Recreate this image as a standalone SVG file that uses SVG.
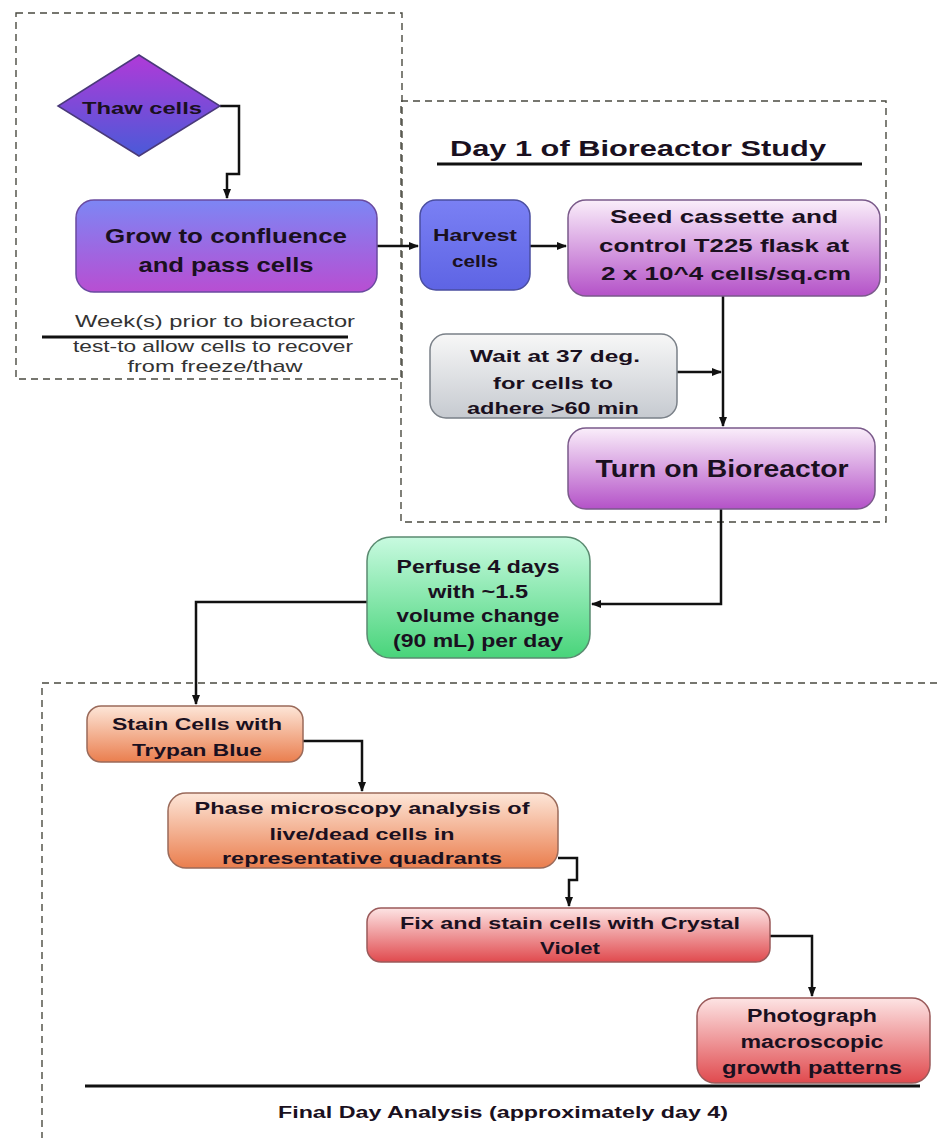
<svg xmlns="http://www.w3.org/2000/svg" width="937" height="1138" viewBox="0 0 937 1138">
<defs>
<linearGradient id="gDiamond" x1="0" y1="0" x2="0" y2="1"><stop offset="0" stop-color="#b03ad8"/><stop offset="1" stop-color="#4a5ad8"/></linearGradient>
<linearGradient id="gGrow" x1="0" y1="0" x2="0" y2="1"><stop offset="0" stop-color="#7d86f4"/><stop offset="1" stop-color="#b84ed2"/></linearGradient>
<linearGradient id="gHarvest" x1="0" y1="0" x2="0" y2="1"><stop offset="0" stop-color="#7a80f4"/><stop offset="1" stop-color="#5e64e4"/></linearGradient>
<linearGradient id="gPurple" x1="0" y1="0" x2="0" y2="1"><stop offset="0" stop-color="#faeefa"/><stop offset="1" stop-color="#b452c8"/></linearGradient>
<linearGradient id="gGray" x1="0" y1="0" x2="0" y2="1"><stop offset="0" stop-color="#f7f7f7"/><stop offset="1" stop-color="#c6cad0"/></linearGradient>
<linearGradient id="gGreen" x1="0" y1="0" x2="0" y2="1"><stop offset="0" stop-color="#c8fae0"/><stop offset="1" stop-color="#48d47a"/></linearGradient>
<linearGradient id="gOrange" x1="0" y1="0" x2="0" y2="1"><stop offset="0" stop-color="#fde6d8"/><stop offset="1" stop-color="#ea7e4e"/></linearGradient>
<linearGradient id="gRed" x1="0" y1="0" x2="0" y2="1"><stop offset="0" stop-color="#fde4e4"/><stop offset="1" stop-color="#e04a4e"/></linearGradient>
<marker id="arr" viewBox="0 0 10 10" refX="9" refY="5" markerWidth="10" markerHeight="10" markerUnits="userSpaceOnUse" orient="auto"><path d="M0,1 L10,5 L0,9 z" fill="#111"/></marker>
</defs>
<style>
.frame{fill:none;stroke:#4a4a40;stroke-width:1.4;stroke-dasharray:7,5}
.node{stroke-width:1.5}
.t{font-family:"Liberation Sans",Arial,sans-serif;font-weight:bold;fill:#1a1020;text-anchor:middle}
.n{font-family:"Liberation Sans",Arial,sans-serif;fill:#333;text-anchor:middle;font-size:17px}
.conn{fill:none;stroke:#111;stroke-width:2.5}
.rule{stroke:#111;stroke-width:3}
</style>
<rect width="937" height="1138" fill="#ffffff"/>

<g id="frames">
<rect class="frame" x="16" y="13" width="386" height="366"/>
<rect class="frame" x="401" y="101" width="485" height="421" stroke="#6a5a3a"/>
<path class="frame" d="M937,683 H42 V1138"/>
</g>

<g id="labels">
<text class="n" x="215" y="327" textLength="280" lengthAdjust="spacingAndGlyphs">Week(s) prior to bioreactor</text>
<line class="rule" x1="42" y1="337" x2="348" y2="337" stroke-width="2.5"/>
<text class="n" x="213" y="352" textLength="280" lengthAdjust="spacingAndGlyphs">test-to allow cells to recover</text>
<text class="n" x="215" y="372" textLength="175" lengthAdjust="spacingAndGlyphs">from freeze/thaw</text>
<text class="t" x="638" y="156" font-size="22" textLength="376" lengthAdjust="spacingAndGlyphs">Day 1 of Bioreactor Study</text>
<line class="rule" x1="437" y1="164" x2="862" y2="164"/>
<line class="rule" x1="85" y1="1086" x2="920" y2="1086"/>
<text class="t" x="503" y="1118" font-size="16" textLength="450" lengthAdjust="spacingAndGlyphs">Final Day Analysis (approximately day 4)</text>
</g>

<g id="connectors">
<path class="conn" d="M220,106 H239 V174 H227 V198" marker-end="url(#arr)"/>
<path class="conn" d="M377,246 H418" marker-end="url(#arr)"/>
<path class="conn" d="M530,246 H566" marker-end="url(#arr)"/>
<path class="conn" d="M723,296 V426" marker-end="url(#arr)"/>
<path class="conn" d="M677,372 H721" marker-end="url(#arr)"/>
<path class="conn" d="M721,508 V604 H592" marker-end="url(#arr)"/>
<path class="conn" d="M367,602 H196 V704" marker-end="url(#arr)"/>
<path class="conn" d="M303,741 H362 V791" marker-end="url(#arr)"/>
<path class="conn" d="M558,858 H577 V880 H569 V906" marker-end="url(#arr)"/>
<path class="conn" d="M770,936 H812 V996" marker-end="url(#arr)"/>
</g>

<g id="thaw">
<polygon class="node" points="139,55 220,106 139,156 58,106" fill="url(#gDiamond)" stroke="#4a3a7a"/>
<text class="t" x="142" y="114" font-size="17" textLength="120" lengthAdjust="spacingAndGlyphs">Thaw  cells</text>
</g>

<g id="grow">
<rect class="node" x="76" y="200" width="301" height="92" rx="18" fill="url(#gGrow)" stroke="#6a4aa0"/>
<text class="t" x="226" y="243" font-size="21" textLength="242" lengthAdjust="spacingAndGlyphs">Grow to confluence</text>
<text class="t" x="226" y="272" font-size="21" textLength="175" lengthAdjust="spacingAndGlyphs">and pass cells</text>
</g>

<g id="harvest">
<rect class="node" x="420" y="200" width="110" height="90" rx="16" fill="url(#gHarvest)" stroke="#4a4ea0"/>
<text class="t" x="475" y="241" font-size="17" textLength="84" lengthAdjust="spacingAndGlyphs">Harvest</text>
<text class="t" x="475" y="267" font-size="17" textLength="46" lengthAdjust="spacingAndGlyphs">cells</text>
</g>

<g id="seed">
<rect class="node" x="568" y="200" width="312" height="96" rx="18" fill="url(#gPurple)" stroke="#7a5a8a"/>
<text class="t" x="724" y="223" font-size="19" textLength="228" lengthAdjust="spacingAndGlyphs">Seed cassette and</text>
<text class="t" x="724" y="252" font-size="19" textLength="250" lengthAdjust="spacingAndGlyphs">control T225 flask at</text>
<text class="t" x="726" y="280" font-size="19" textLength="250" lengthAdjust="spacingAndGlyphs">2 x 10^4 cells/sq.cm</text>
</g>

<g id="wait">
<rect class="node" x="430" y="334" width="247" height="84" rx="16" fill="url(#gGray)" stroke="#7a8088"/>
<text class="t" x="555" y="362" font-size="17" textLength="170" lengthAdjust="spacingAndGlyphs">Wait at 37 deg.</text>
<text class="t" x="553" y="389" font-size="17" textLength="120" lengthAdjust="spacingAndGlyphs">for cells to</text>
<text class="t" x="553" y="414" font-size="17" textLength="172" lengthAdjust="spacingAndGlyphs">adhere &gt;60 min</text>
</g>

<g id="turnon">
<rect class="node" x="568" y="428" width="307" height="81" rx="18" fill="url(#gPurple)" stroke="#7a5a8a"/>
<text class="t" x="722" y="477" font-size="24" textLength="253" lengthAdjust="spacingAndGlyphs">Turn on Bioreactor</text>
</g>

<g id="perfuse">
<rect class="node" x="367" y="537" width="223" height="121" rx="24" fill="url(#gGreen)" stroke="#5a8a70"/>
<text class="t" x="478" y="573" font-size="18" textLength="163" lengthAdjust="spacingAndGlyphs">Perfuse 4 days</text>
<text class="t" x="478" y="598" font-size="18" textLength="100" lengthAdjust="spacingAndGlyphs">with ~1.5</text>
<text class="t" x="478" y="622" font-size="18" textLength="163" lengthAdjust="spacingAndGlyphs">volume change</text>
<text class="t" x="478" y="647" font-size="18" textLength="170" lengthAdjust="spacingAndGlyphs">(90 mL) per day</text>
</g>

<g id="stain">
<rect class="node" x="87" y="706" width="216" height="56" rx="14" fill="url(#gOrange)" stroke="#9a6a5a"/>
<text class="t" x="197" y="730" font-size="17" textLength="170" lengthAdjust="spacingAndGlyphs">Stain Cells with</text>
<text class="t" x="197" y="756" font-size="17" textLength="130" lengthAdjust="spacingAndGlyphs">Trypan Blue</text>
</g>

<g id="phase">
<rect class="node" x="168" y="793" width="390" height="75" rx="18" fill="url(#gOrange)" stroke="#9a6a5a"/>
<text class="t" x="362" y="814" font-size="17" textLength="335" lengthAdjust="spacingAndGlyphs">Phase microscopy analysis of</text>
<text class="t" x="362" y="840" font-size="17" textLength="185" lengthAdjust="spacingAndGlyphs">live/dead cells in</text>
<text class="t" x="362" y="864" font-size="17" textLength="280" lengthAdjust="spacingAndGlyphs">representative quadrants</text>
</g>

<g id="fix">
<rect class="node" x="367" y="908" width="403" height="54" rx="14" fill="url(#gRed)" stroke="#9a5a5a"/>
<text class="t" x="570" y="929" font-size="17" textLength="340" lengthAdjust="spacingAndGlyphs">Fix and stain cells with Crystal</text>
<text class="t" x="570" y="954" font-size="17" textLength="60" lengthAdjust="spacingAndGlyphs">Violet</text>
</g>

<g id="photo">
<rect class="node" x="697" y="998" width="233" height="85" rx="18" fill="url(#gRed)" stroke="#9a5a5a"/>
<text class="t" x="812" y="1022" font-size="18" textLength="130" lengthAdjust="spacingAndGlyphs">Photograph</text>
<text class="t" x="812" y="1048" font-size="18" textLength="143" lengthAdjust="spacingAndGlyphs">macroscopic</text>
<text class="t" x="812" y="1074" font-size="18" textLength="180" lengthAdjust="spacingAndGlyphs">growth patterns</text>
</g>
</svg>
